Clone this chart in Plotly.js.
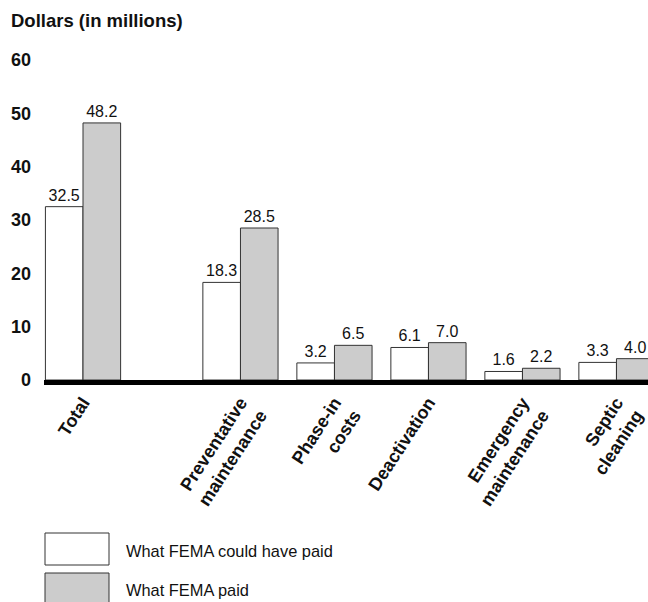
<!DOCTYPE html>
<html>
<head>
<meta charset="utf-8">
<script src="https://cdn.plot.ly/plotly-3.0.1.min.js"></script>
<style>html,body{margin:0;padding:0;background:#fff;}#chart{width:648px;height:602px;}</style>
</head>
<body>
<div id="chart"></div>
<script>
const categories = ["Total", "Preventative<br>maintenance", "Phase-in<br>costs", "Deactivation", "Emergency<br>maintenance", "Septic<br>cleaning"];
const couldHavePaid = [32.5, 18.3, 3.2, 6.1, 1.6, 3.3];
const paid = [48.2, 28.5, 6.5, 7.0, 2.2, 4.0];
const seriesNames = ["What FEMA could have paid", "What FEMA paid"];
const yTicks = [0, 10, 20, 30, 40, 50, 60];

// layout helpers
const W = 648, H = 602;
const M = {l: 44, r: 0, t: 60, b: 222};
const gapAfterTotal = 0.675;
const pos = categories.map((c, i) => i === 0 ? 0 : i + gapAfterTotal);
const PW = W - M.l - M.r, PH = H - M.t - M.b;
const px = x => (x - M.l) / PW;
const py = y => (H - M.b - y) / PH;

const FONT = "Liberation Sans, Arial, Helvetica, sans-serif";
const lineCol = "#333333";

const traces = [
  {
    type: "bar", x: pos, y: couldHavePaid, name: seriesNames[0],
    marker: {color: "#ffffff", line: {color: lineCol, width: 1}},
    text: couldHavePaid.map(v => v.toFixed(1)), textposition: "outside",
    textfont: {family: FONT, size: 16, color: "#111"}
  },
  {
    type: "bar", x: pos, y: paid, name: seriesNames[1],
    marker: {color: "#cccccc", line: {color: lineCol, width: 1}},
    text: paid.map(v => v.toFixed(1)), textposition: "outside",
    textfont: {family: FONT, size: 16, color: "#111"}
  }
];

const layout = {
  width: W, height: H,
  margin: M,
  paper_bgcolor: "#fff", plot_bgcolor: "#fff",
  barmode: "group", bargap: 0.2, bargroupgap: 0,
  showlegend: false,
  font: {family: FONT, color: "#111"},
  xaxis: {
    range: [-0.415, (W - M.r - M.l) / 94 - 0.415],
    tickvals: pos, ticktext: categories, tickangle: -57,
    tickfont: {family: FONT, size: 18, weight: "bold", color: "#111"},
    showgrid: false, zeroline: false,
    showline: true, linewidth: 5, linecolor: "#000",
    ticks: "", automargin: false
  },
  yaxis: {
    range: [0, 60], tickvals: yTicks,
    tickfont: {family: FONT, size: 18, weight: "bold", color: "#111"},
    showgrid: false, zeroline: false, showline: false,
    ticks: "", ticklabelstandoff: 12, automargin: false
  },
  shapes: [
    {type: "rect", xref: "paper", yref: "paper", x0: px(45), x1: px(109), y0: py(533), y1: py(565),
     fillcolor: "#ffffff", line: {color: lineCol, width: 1}},
    {type: "rect", xref: "paper", yref: "paper", x0: px(45), x1: px(109), y0: py(573), y1: py(612),
     fillcolor: "#cccccc", line: {color: lineCol, width: 1}}
  ],
  annotations: [
    {text: "Dollars (in millions)", xref: "paper", yref: "paper", x: px(9), y: py(20),
     xanchor: "left", yanchor: "middle", showarrow: false,
     font: {family: FONT, size: 18.5, weight: "bold", color: "#111"}},
    {text: seriesNames[0], xref: "paper", yref: "paper", x: px(124), y: py(551),
     xanchor: "left", yanchor: "middle", showarrow: false,
     font: {family: FONT, size: 16.4, color: "#111"}},
    {text: seriesNames[1], xref: "paper", yref: "paper", x: px(124), y: py(590),
     xanchor: "left", yanchor: "middle", showarrow: false,
     font: {family: FONT, size: 16.4, color: "#111"}}
  ]
};

Plotly.newPlot("chart", traces, layout, {displayModeBar: false, staticPlot: true});
</script>
</body>
</html>
